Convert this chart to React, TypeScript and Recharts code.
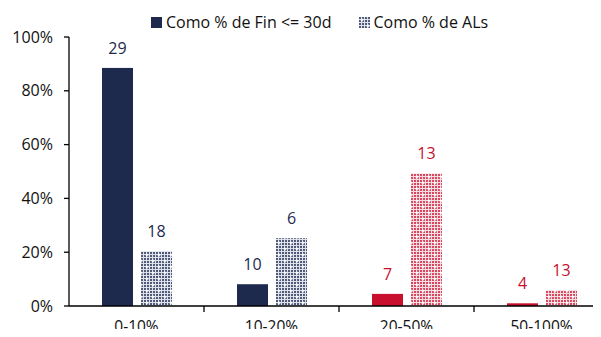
import React from 'react';
import { BarChart, Bar, XAxis, YAxis, LabelList } from 'recharts';

const categories = ['0-10%', '10-20%', '20-50%', '50-100%'];
const finShare = [0.885, 0.081, 0.045, 0.01];
const alShare = [0.204, 0.252, 0.493, 0.059];
const finCount = [29, 10, 7, 4];
const alCount = [18, 6, 13, 13];
const yTicks = [0, 0.2, 0.4, 0.6, 0.8, 1];
const seriesNames = ['Como % de Fin <= 30d', 'Como % de ALs'];

const NAVY = '#1d2a4e';
const RED = '#c8102e';
const FONT = '"Open Sans", sans-serif';

const W = 615;
const H = 337;
const X_AXIS_H = 31;
const AXIS_Y = H - X_AXIS_H; // where the category axis line sits

// first two buckets navy, the riskier ones red
const colorAt = (i: number) => (i < 2 ? NAVY : RED);

const data = categories.map((c, i) => ({
    name: c,
    fin: finShare[i],
    al: alShare[i],
}));

const makeLabel = (counts: number[]) => (props: any) => {
    const { x, y, width, index } = props;
    return (
        <text
            x={Number(x) + Number(width) / 2}
            y={Number(y) - 20}
            textAnchor="middle"
            dominantBaseline="central"
            fill={colorAt(index)}
            style={{ fontFamily: FONT, fontSize: 16 }}
        >
            {counts[index]}
        </text>
    );
};

const XTick = (props: any) => {
    const { x, payload, index } = props;
    const half = payload.offset || 67.5;
    return (
        <g>
            {index < categories.length - 1 && (
                <line x1={x + half} x2={x + half} y1={AXIS_Y} y2={AXIS_Y + 6} stroke="#000" strokeWidth={1.3} />
            )}
            <text x={x} y={AXIS_Y + 26} textAnchor="middle" fill="#111" style={{ fontFamily: FONT, fontSize: 15.5 }}>
                {payload.value}
            </text>
        </g>
    );
};

const Pattern = ({ id, color, bg }: { id: string; color: string; bg: string }) => {
    const dots = [];
    for (let r = 0; r < 4; r++) {
        for (let c = 0; c < 4; c++) {
            dots.push(<rect key={`${r}-${c}`} x={c * 3} y={r * 3} width={2} height={2} fill={color} />);
        }
    }
    return (
        <pattern id={id} width={12} height={12} patternUnits="userSpaceOnUse">
            <rect width={12} height={12} fill={bg} />
            {dots}
            <path d="M3 1.5v3M1.5 3h3M9 7.5v3M7.5 9h3" stroke="#fff" strokeWidth={1.2} />
        </pattern>
    );
};

export default function App() {
    return (
        <div style={{ margin: -8, width: 601, height: 337, overflow: 'hidden', position: 'relative', background: '#fff' }}>
            <div style={{ position: 'absolute', top: 11, left: 151, display: 'flex', alignItems: 'center', fontFamily: FONT, fontSize: 16, color: '#111', zIndex: 2 }}>
                <svg width={11} height={11} style={{ marginRight: 4 }}>
                    <rect width={11} height={11} fill={NAVY} />
                </svg>
                <span style={{ marginRight: 28 }}>{seriesNames[0]}</span>
                <svg width={11} height={11} style={{ marginRight: 3 }}>
                    <defs>
                        <Pattern id="legPat" color="#4f5a79" bg="#dfe2ea" />
                    </defs>
                    <rect width={11} height={11} fill="url(#legPat)" />
                </svg>
                <span>{seriesNames[1]}</span>
            </div>
            <BarChart
                width={W}
                height={H}
                data={data}
                margin={{ top: 37, right: 6, bottom: 0, left: 0 }}
                barGap={8}
                barSize={31}
            >
                <defs>
                    <Pattern id="patNavy" color="#4f5a79" bg="#dfe2ea" />
                    <Pattern id="patRed" color="#d84660" bg="#f6dde2" />
                </defs>
                <XAxis
                    dataKey="name"
                    height={X_AXIS_H}
                    axisLine={{ stroke: '#000', strokeWidth: 1.3 }}
                    tickLine={false}
                    tick={<XTick />}
                    interval={0}
                />
                <YAxis
                    width={69}
                    domain={[0, 1]}
                    ticks={yTicks}
                    tickFormatter={(v: number) => `${Math.round(v * 100)}%`}
                    axisLine={{ stroke: '#000', strokeWidth: 1.3 }}
                    tickLine={{ stroke: '#000', strokeWidth: 1.3 }}
                    tickSize={5}
                    tickMargin={11}
                    tick={{ fill: '#111', fontFamily: FONT, fontSize: 16 }}
                />
                <Bar dataKey="fin" name={seriesNames[0]} isAnimationActive={false} shape={(p: any) => (
                    <rect x={p.x} y={p.y} width={p.width} height={p.height} fill={colorAt(p.index)} />
                )}>
                    <LabelList dataKey="fin" content={makeLabel(finCount)} />
                </Bar>
                <Bar dataKey="al" name={seriesNames[1]} isAnimationActive={false} shape={(p: any) => (
                    <rect x={p.x} y={p.y} width={p.width} height={p.height} fill={p.index < 2 ? 'url(#patNavy)' : 'url(#patRed)'} />
                )}>
                    <LabelList dataKey="al" content={makeLabel(alCount)} />
                </Bar>
            </BarChart>
        </div>
    );
}
